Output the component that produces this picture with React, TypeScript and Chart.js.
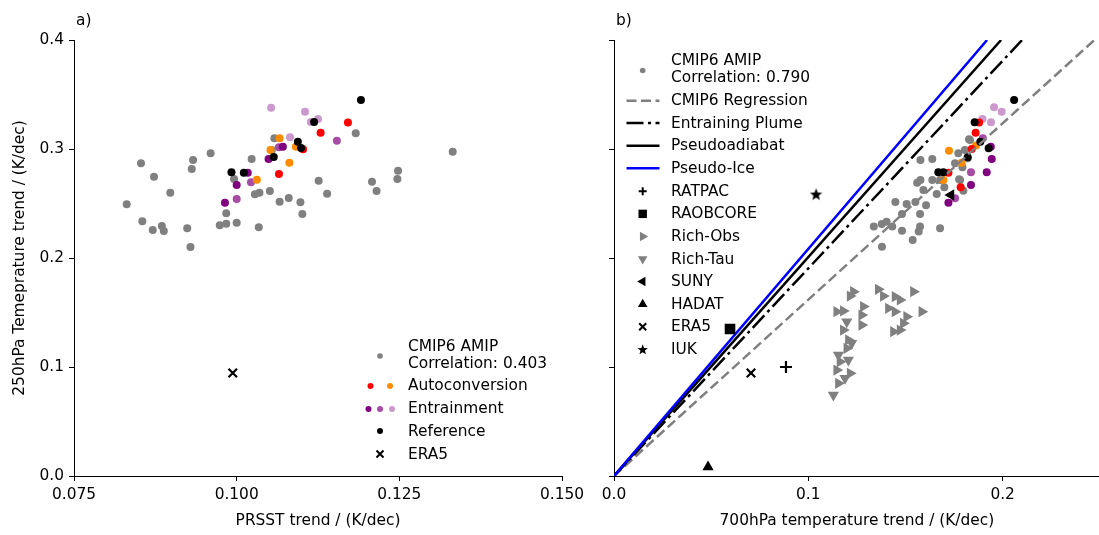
import React, { useEffect, useRef } from 'react';
import { Chart, registerables } from 'chart.js';
Chart.register(...registerables);

type P = [number, number];

// ---------------- Panel a) data ----------------
const xTicksA = [0.075, 0.1, 0.125, 0.15];
const yTicks = [0, 0.1, 0.2, 0.3, 0.4];
const xTicksB = [0, 0.1, 0.2];

const cmipA: P[] = [
  [0.0853, 0.2869], [0.0873, 0.2746], [0.0898, 0.2599], [0.0831, 0.2493], [0.0855, 0.2337],
  [0.0871, 0.2257], [0.0885, 0.2294], [0.0888, 0.2248], [0.0924, 0.2272], [0.0929, 0.2101],
  [0.0933, 0.2899], [0.0931, 0.2817], [0.096, 0.2961], [0.1023, 0.2908], [0.0996, 0.2725],
  [0.0984, 0.241], [0.0974, 0.23], [0.0984, 0.2315], [0.1, 0.2324], [0.1034, 0.2282],
  [0.1028, 0.2584], [0.1035, 0.2599], [0.1051, 0.2615], [0.1066, 0.2517], [0.108, 0.255],
  [0.1098, 0.2511], [0.1101, 0.2404], [0.1126, 0.2709], [0.1139, 0.259], [0.1208, 0.27],
  [0.1215, 0.2615], [0.1248, 0.2801], [0.1247, 0.2725], [0.1332, 0.2975], [0.1183, 0.3144],
  [0.1058, 0.3098], [0.1054, 0.2991],
];
const referenceA: P[] = [
  [0.1191, 0.345], [0.1119, 0.3248], [0.1094, 0.3067], [0.1099, 0.3009], [0.1057, 0.2927],
  [0.0992, 0.2786], [0.1011, 0.2783],
];
const autoRedA: P[] = [[0.1171, 0.3242], [0.1129, 0.315], [0.1102, 0.2997], [0.1065, 0.2771]];
const autoOrangeA: P[] = [[0.1066, 0.3098], [0.1091, 0.3021], [0.1052, 0.2991], [0.1081, 0.2875], [0.1031, 0.2719]];
const entDarkA: P[] = [[0.1071, 0.3021], [0.1049, 0.2908], [0.1017, 0.2783], [0.1, 0.267], [0.0982, 0.2508]];
const entMidA: P[] = [[0.1154, 0.3076], [0.1022, 0.2694], [0.1, 0.2541], [0.1065, 0.3015]];
const entLightA: P[] = [[0.1053, 0.3379], [0.1105, 0.3342], [0.1125, 0.3275], [0.1114, 0.3248], [0.1082, 0.3107]];
const era5A: P[] = [[0.0994, 0.0945]];

// ---------------- Panel b) data ----------------
const cmipB: P[] = [
  [0.1577, 0.2899], [0.1638, 0.2908], [0.1577, 0.2716], [0.156, 0.269], [0.1638, 0.2716],
  [0.1506, 0.2495], [0.1448, 0.2514], [0.1551, 0.2514], [0.1606, 0.2483], [0.1575, 0.2404],
  [0.1482, 0.2404], [0.1403, 0.2333], [0.1378, 0.2312], [0.1337, 0.2288], [0.1432, 0.2288],
  [0.1482, 0.2251], [0.1575, 0.2288], [0.1568, 0.2242], [0.1537, 0.2165], [0.1678, 0.2272],
  [0.1379, 0.2104], [0.1592, 0.2624], [0.1661, 0.2587], [0.1781, 0.2716], [0.1798, 0.2618],
  [0.1772, 0.2961], [0.1806, 0.2991], [0.1832, 0.3083], [0.1827, 0.3089], [0.1755, 0.2869],
  [0.1793, 0.2832], [0.1776, 0.2722], [0.182, 0.2914], [0.1678, 0.2716], [0.17, 0.265],
];
const referenceB: P[] = [
  [0.2059, 0.345], [0.1856, 0.3245], [0.1885, 0.3067], [0.1928, 0.3006], [0.182, 0.2924],
  [0.1669, 0.2786], [0.1695, 0.2786],
];
const autoRedB: P[] = [[0.1879, 0.3242], [0.1861, 0.315], [0.1841, 0.3], [0.1721, 0.2783], [0.1784, 0.2649]];
const autoOrangeB: P[] = [[0.1863, 0.3031], [0.1724, 0.2984], [0.1789, 0.2875], [0.1695, 0.2716]];
const entDarkB: P[] = [[0.1939, 0.3021], [0.1944, 0.2908], [0.1918, 0.2786], [0.1837, 0.267], [0.1721, 0.2508]];
const entMidB: P[] = [[0.1837, 0.2786], [0.1755, 0.2548], [0.1898, 0.3098]];
const entLightB: P[] = [[0.1896, 0.3275], [0.194, 0.3245], [0.1956, 0.3382], [0.1995, 0.3342]];

const ratpac: P[] = [[0.0885, 0.1]];
const raobcore: P[] = [[0.0597, 0.1349]];
const era5B: P[] = [[0.0705, 0.0945]];
const hadat: P[] = [[0.0484, 0.0083]];
const suny: P[] = [[0.1734, 0.2578]];
const iuk: P[] = [[0.104, 0.2587]];
const richObs: P[] = [
  [0.1232, 0.1691], [0.1215, 0.1651], [0.136, 0.1713], [0.1386, 0.1651], [0.1446, 0.1645],
  [0.1472, 0.1615], [0.1541, 0.1691], [0.1146, 0.1508], [0.118, 0.1514], [0.1283, 0.1554],
  [0.1275, 0.1477], [0.1412, 0.1538], [0.1446, 0.1508], [0.1506, 0.1462], [0.1584, 0.1508],
  [0.1438, 0.1324], [0.1472, 0.1339], [0.1489, 0.1401], [0.1275, 0.1385], [0.118, 0.1339],
  [0.1206, 0.1248], [0.1198, 0.1171], [0.1163, 0.1049], [0.1146, 0.0972], [0.1215, 0.0942],
  [0.1155, 0.085],
];
const richTau: P[] = [[0.1129, 0.0743], [0.1206, 0.1064], [0.1155, 0.111], [0.1189, 0.0896], [0.1198, 0.1416], [0.1223, 0.1217]];

const regressionLine: P[] = [[0, 0], [0.25, 0.4045]];
const entrainingLine: P[] = [[0, 0], [0.21, 0.4]];
const pseudoadiabatLine: P[] = [[0, 0], [0.1992, 0.4]];
const pseudoIceLine: P[] = [[0, 0], [0.192, 0.4]];

const legendLabelsA = ['CMIP6 AMIP', 'Correlation: 0.403', 'Autoconversion', 'Entrainment', 'Reference', 'ERA5'];
const legendLabelsB = ['CMIP6 AMIP', 'Correlation: 0.790', 'CMIP6 Regression', 'Entraining Plume', 'Pseudoadiabat',
  'Pseudo-Ice', 'RATPAC', 'RAOBCORE', 'Rich-Obs', 'Rich-Tau', 'SUNY', 'HADAT', 'ERA5', 'IUK'];

// ---------------- styling ----------------
const GREY = '#808080';
const RED = '#ff0000';
const ORANGE = '#ff8c00';
const PURPLE1 = '#800080';
const PURPLE2 = '#a64ca6';
const PURPLE3 = '#cc99cc';
const BLACK = '#000000';
const BLUE = '#0000ff';
const FONT = 'DejaVu Sans';
const FS = 15.4;

Chart.defaults.font.family = FONT;
Chart.defaults.font.size = FS;
Chart.defaults.color = '#000';

function starPath(g: CanvasRenderingContext2D, cx: number, cy: number, r: number) {
  g.beginPath();
  for (let i = 0; i < 10; i++) {
    const rad = i % 2 === 0 ? r : r * 0.42;
    const a = -Math.PI / 2 + (i * Math.PI) / 5;
    const px = cx + rad * Math.cos(a);
    const py = cy + rad * Math.sin(a);
    if (i === 0) g.moveTo(px, py); else g.lineTo(px, py);
  }
  g.closePath();
}

function makeStar(r: number, color: string) {
  const c = document.createElement('canvas');
  const s = Math.ceil(r * 2 + 2);
  c.width = s; c.height = s;
  const g = c.getContext('2d')!;
  g.fillStyle = color;
  starPath(g, s / 2, s / 2 + r * 0.1, r);
  g.fill();
  return c;
}

function drawMarker(ctx: CanvasRenderingContext2D, style: string, x: number, y: number, r: number, color: string, rot = 0) {
  ctx.save();
  ctx.translate(x, y);
  ctx.rotate((rot * Math.PI) / 180);
  ctx.fillStyle = color;
  ctx.strokeStyle = color;
  ctx.lineWidth = 2;
  ctx.beginPath();
  if (style === 'circle') {
    ctx.arc(0, 0, r, 0, Math.PI * 2);
    ctx.fill();
  } else if (style === 'rect') {
    ctx.fillRect(-r, -r, 2 * r, 2 * r);
  } else if (style === 'triangle') {
    for (let i = 0; i < 3; i++) {
      const a = (i * 2 * Math.PI) / 3;
      const px = Math.sin(a) * r, py = -Math.cos(a) * r;
      if (i === 0) ctx.moveTo(px, py); else ctx.lineTo(px, py);
    }
    ctx.closePath();
    ctx.fill();
  } else if (style === 'cross') {
    ctx.moveTo(-r, 0); ctx.lineTo(r, 0); ctx.moveTo(0, -r); ctx.lineTo(0, r);
    ctx.stroke();
  } else if (style === 'crossRot') {
    ctx.moveTo(-r, -r); ctx.lineTo(r, r); ctx.moveTo(-r, r); ctx.lineTo(r, -r);
    ctx.stroke();
  } else if (style === 'star') {
    starPath(ctx, 0, r * 0.1, r);
    ctx.fill();
  }
  ctx.restore();
}

function drawLineSample(ctx: CanvasRenderingContext2D, x0: number, x1: number, y: number, color: string, dash: number[]) {
  ctx.save();
  ctx.strokeStyle = color;
  ctx.lineWidth = 2.5;
  ctx.setLineDash(dash);
  ctx.beginPath();
  ctx.moveTo(x0, y);
  ctx.lineTo(x1, y);
  ctx.stroke();
  ctx.restore();
}

const DASH = [10, 4.5];
const DASHDOT = [17, 4.5, 3, 4.5];

const pts = (a: P[]) => a.map(([x, y]) => ({ x, y }));

function sc(label: string, data: P[], color: string, style: any, radius: number, order: number, extra: any = {}) {
  return {
    label,
    data: pts(data),
    showLine: false,
    pointStyle: style,
    pointRadius: radius,
    pointBackgroundColor: color,
    pointBorderColor: color,
    pointBorderWidth: 0,
    order,
    ...extra,
  };
}

function ln(label: string, data: P[], color: string, dash: number[], order: number) {
  return {
    label,
    data: pts(data),
    showLine: true,
    borderColor: color,
    borderWidth: 2.5,
    borderDash: dash,
    pointRadius: 0,
    fill: false,
    order,
  };
}

function panelPlugin(title: string, drawLegend: (ctx: CanvasRenderingContext2D) => void) {
  return {
    id: 'panelDecor' + title.replace(')', ''),
    afterDraw(chart: any) {
      const ctx: CanvasRenderingContext2D = chart.ctx;
      ctx.save();
      ctx.font = `${FS}px "${FONT}"`;
      ctx.fillStyle = '#000';
      ctx.textAlign = 'left';
      ctx.textBaseline = 'alphabetic';
      ctx.fillText(title, chart.chartArea.left + 2, chart.chartArea.top - 15);
      ctx.textBaseline = 'middle';
      drawLegend(ctx);
      ctx.restore();
    },
  };
}

function legendA(ctx: CanvasRenderingContext2D) {
  const tx = 408;
  const L = legendLabelsA;
  drawMarker(ctx, 'circle', 380, 356, 2.8, GREY);
  ctx.fillText(L[0], tx, 347);
  ctx.fillText(L[1], tx, 364);
  drawMarker(ctx, 'circle', 370.5, 386, 3, RED);
  drawMarker(ctx, 'circle', 390, 386, 3, ORANGE);
  ctx.fillText(L[2], tx, 386);
  drawMarker(ctx, 'circle', 368.5, 409, 3, PURPLE1);
  drawMarker(ctx, 'circle', 380, 409, 3, PURPLE2);
  drawMarker(ctx, 'circle', 392, 409, 3, PURPLE3);
  ctx.fillText(L[3], tx, 409);
  drawMarker(ctx, 'circle', 380, 431, 3, BLACK);
  ctx.fillText(L[4], tx, 432);
  drawMarker(ctx, 'crossRot', 380, 454, 3.5, BLACK);
  ctx.fillText(L[5], tx, 455);
}

function legendB(ctx: CanvasRenderingContext2D) {
  const tx = 81;
  const mx = 52.7;
  const L = legendLabelsB;
  drawMarker(ctx, 'circle', mx, 70.5, 2.8, GREY);
  ctx.fillText(L[0], tx, 61);
  ctx.fillText(L[1], tx, 78);
  const rows = [100.7, 123, 145.7, 168.3];
  drawLineSample(ctx, 36.5, 69.5, rows[0], GREY, DASH);
  ctx.fillText(L[2], tx, rows[0] + 0.5);
  drawLineSample(ctx, 36.5, 69.5, rows[1], BLACK, DASHDOT);
  ctx.fillText(L[3], tx, rows[1] + 0.5);
  drawLineSample(ctx, 36.5, 69.5, rows[2], BLACK, []);
  ctx.fillText(L[4], tx, rows[2] + 0.5);
  drawLineSample(ctx, 36.5, 69.5, rows[3], BLUE, []);
  ctx.fillText(L[5], tx, rows[3] + 0.5);
  const y0 = 191.3, dy = 22.57;
  const marks: [string, string, number, number][] = [
    ['cross', BLACK, 4, 0], ['rect', BLACK, 4.2, 0], ['triangle', GREY, 5.5, 90], ['triangle', GREY, 5.5, 180],
    ['triangle', BLACK, 5.5, 270], ['triangle', BLACK, 5.5, 0], ['crossRot', BLACK, 3.5, 0], ['star', BLACK, 5.5, 0],
  ];
  marks.forEach((m, i) => {
    const y = y0 + i * dy;
    drawMarker(ctx, m[0], mx, y, m[2], m[1], m[3]);
    ctx.fillText(L[6 + i], tx, y + 0.5);
  });
}

function baseScales(xMin: number, xMax: number, xTicks: number[], xFmt: number, xTitle: string, yWidth: number, yTitle: string | null) {
  return {
    x: {
      type: 'linear',
      min: xMin,
      max: xMax,
      afterBuildTicks: (s: any) => { s.ticks = xTicks.map((v) => ({ value: v })); },
      afterFit: (s: any) => { s.height = 59; },
      ticks: { callback: (v: any) => Number(v).toFixed(xFmt), padding: 5, maxRotation: 0, autoSkip: false, font: { size: FS }, color: '#000' },
      grid: { display: true, drawOnChartArea: false, drawTicks: true, tickLength: 5, tickColor: '#000', tickWidth: 1 },
      border: { display: true, color: '#000', width: 1 },
      title: { display: true, text: xTitle, padding: { top: 0, bottom: 5 }, font: { size: FS }, color: '#000' },
    },
    y: {
      type: 'linear',
      min: 0,
      max: 0.4,
      afterBuildTicks: (s: any) => { s.ticks = yTicks.map((v) => ({ value: v })); },
      afterFit: (s: any) => { s.width = yWidth; },
      ticks: { callback: (v: any) => (yTitle ? Number(v).toFixed(1) : ''), padding: 5, autoSkip: false, font: { size: FS }, color: '#000' },
      grid: { display: true, drawOnChartArea: false, drawTicks: true, tickLength: 5, tickColor: '#000', tickWidth: 1 },
      border: { display: true, color: '#000', width: 1 },
      title: { display: !!yTitle, text: yTitle || '', padding: { top: 11, bottom: 0 }, font: { size: FS }, color: '#000' },
    },
  };
}

const commonOpts = {
  animation: false,
  responsive: false,
  events: [],
  plugins: { legend: { display: false }, tooltip: { enabled: false }, title: { display: false } },
};

export default function App() {
  const canvasA = useRef<HTMLCanvasElement>(null);
  const canvasB = useRef<HTMLCanvasElement>(null);

  useEffect(() => {
    const star = makeStar(6.5, BLACK);
    const chartA = new Chart(canvasA.current!, {
      type: 'scatter',
      data: {
        datasets: [
          sc('ERA5', era5A, BLACK, 'crossRot', 6, 1, { pointBorderWidth: 2.2 }),
          sc('Reference', referenceA, BLACK, 'circle', 4, 2),
          sc('Autoconversion red', autoRedA, RED, 'circle', 4, 3),
          sc('Autoconversion orange', autoOrangeA, ORANGE, 'circle', 4, 3),
          sc('Entrainment dark', entDarkA, PURPLE1, 'circle', 4, 4),
          sc('Entrainment mid', entMidA, PURPLE2, 'circle', 4, 4),
          sc('Entrainment light', entLightA, PURPLE3, 'circle', 4, 4),
          sc('CMIP6 AMIP', cmipA, GREY, 'circle', 4, 10),
        ] as any,
      },
      options: {
        ...commonOpts,
        layout: { padding: { left: 0, right: 28, top: 40, bottom: 0 } },
        scales: baseScales(0.075, 0.15, xTicksA, 3, 'PRSST trend / (K/dec)', 74, '250hPa Temeprature trend / (K/dec)'),
      } as any,
      plugins: [panelPlugin('a)', legendA)],
    });

    const chartB = new Chart(canvasB.current!, {
      type: 'scatter',
      data: {
        datasets: [
          sc('IUK', iuk, BLACK, star, 6.5, 1),
          sc('ERA5', era5B, BLACK, 'crossRot', 6, 1, { pointBorderWidth: 2.2 }),
          sc('HADAT', hadat, BLACK, 'triangle', 6.5, 1),
          sc('SUNY', suny, BLACK, 'triangle', 6.5, 1, { pointRotation: 270 }),
          sc('RAOBCORE', raobcore, BLACK, 'rect', 7.5, 1),
          sc('RATPAC', ratpac, BLACK, 'cross', 6, 1, { pointBorderWidth: 2.2 }),
          ln('Pseudo-Ice', pseudoIceLine, BLUE, [], 2),
          ln('Pseudoadiabat', pseudoadiabatLine, BLACK, [], 2),
          ln('Entraining Plume', entrainingLine, BLACK, DASHDOT, 2),
          ln('CMIP6 Regression', regressionLine, GREY, DASH, 2),
          sc('Reference', referenceB, BLACK, 'circle', 4, 3),
          sc('Autoconversion red', autoRedB, RED, 'circle', 4, 4),
          sc('Autoconversion orange', autoOrangeB, ORANGE, 'circle', 4, 4),
          sc('Entrainment dark', entDarkB, PURPLE1, 'circle', 4, 5),
          sc('Entrainment mid', entMidB, PURPLE2, 'circle', 4, 5),
          sc('Entrainment light', entLightB, PURPLE3, 'circle', 4, 5),
          sc('Rich-Tau', richTau, GREY, 'triangle', 6.5, 6, { pointRotation: 180 }),
          sc('Rich-Obs', richObs, GREY, 'triangle', 6.5, 6, { pointRotation: 90 }),
          sc('CMIP6 AMIP', cmipB, GREY, 'circle', 4, 10),
        ] as any,
      },
      options: {
        ...commonOpts,
        layout: { padding: { left: 0, right: 0, top: 40, bottom: 0 } },
        scales: baseScales(0, 0.25, xTicksB, 1, '700hPa temperature trend / (K/dec)', 24, null),
      } as any,
      plugins: [panelPlugin('b)', legendB)],
    });

    return () => {
      chartA.destroy();
      chartB.destroy();
    };
  }, []);

  return (
    <div style={{ position: 'absolute', left: 0, top: 0, width: 1099, height: 535, overflow: 'hidden', background: '#fff' }}>
      <canvas ref={canvasA} width={590} height={535} style={{ position: 'absolute', left: 0, top: 0, width: 590, height: 535 }} />
      <canvas ref={canvasB} width={518} height={535} style={{ position: 'absolute', left: 590, top: 0, width: 518, height: 535 }} />
    </div>
  );
}
